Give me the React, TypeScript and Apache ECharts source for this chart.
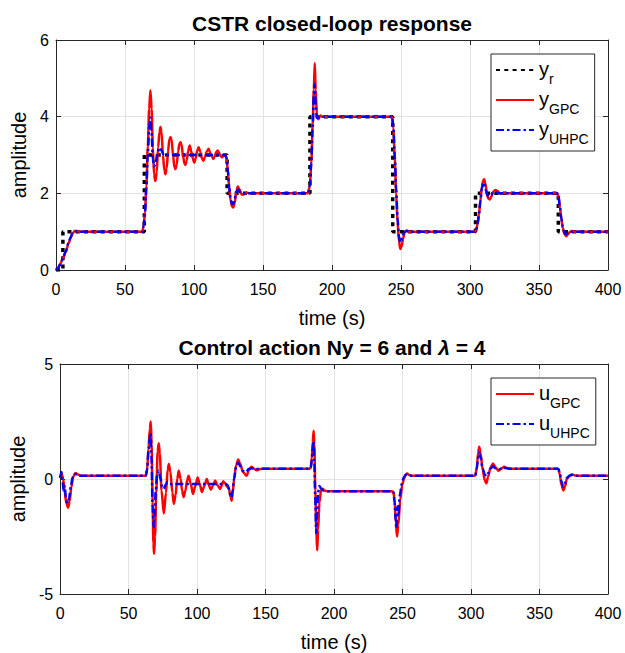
import React, { useEffect, useRef } from 'react';
import * as echarts from 'echarts';

const FONT = '"Liberation Sans", Arial, Helvetica, sans-serif';

// time (s), value pairs
const yRef: number[][] = [
  [0, 0], [5, 0], [5, 1], [64, 1], [64, 3], [124, 3], [124, 2], [184, 2], [184, 4],
  [244, 4], [244, 1], [304, 1], [304, 2], [364, 2], [364, 1], [400, 1],
];

const yGpc: number[][] = [
  [0, 0], [1.5, 0.05], [3, 0.15], [5, 0.3], [7, 0.47], [9, 0.68], [10.5, 0.83], [12, 0.95], [13.5, 1.02], [15, 1.02], [17, 1.0],
  [62.5, 1.0], [63.5, 1.15], [64.5, 1.5], [65.5, 2.2], [66.5, 3.2], [67.5, 4.2], [68.4, 4.69], [69.3, 4.2], [70.2, 3.2], [71, 2.5],
  [72, 2.32], [73, 2.55], [74, 3.2], [75, 3.6], [75.7, 3.73], [76.5, 3.6], [77.5, 3.0], [78.5, 2.6], [79.3, 2.5], [80.2, 2.65],
  [81.2, 3.1], [82.2, 3.42], [83, 3.46], [83.8, 3.4], [84.8, 3.0], [85.8, 2.68], [86.6, 2.63], [87.5, 2.75], [88.5, 3.1], [89.5, 3.3],
  [90.2, 3.33], [91, 3.27], [92, 3.0], [93, 2.78], [93.8, 2.74], [94.7, 2.85], [95.7, 3.1], [96.9, 3.25], [98, 3.1], [99, 2.92],
  [100.2, 2.8], [101.3, 2.92], [102.3, 3.12], [103.4, 3.2], [104.5, 3.08], [105.5, 2.93], [106.8, 2.85], [108, 2.95], [109.3, 3.1],
  [110.6, 3.16], [111.8, 3.05], [113, 2.95], [114, 2.9], [115, 2.96], [116, 3.07], [117.1, 3.12], [118.2, 3.05], [119.3, 2.97],
  [120.3, 2.94], [121.3, 2.98], [122.5, 3.02],
  [123.5, 2.95], [124.5, 2.6], [125.5, 2.15], [126.5, 1.82], [127.5, 1.66], [128.5, 1.63], [129.5, 1.75], [130.5, 2.0], [131.7, 2.18],
  [133, 2.1], [134.5, 1.97], [136, 1.97], [138, 2.02], [140, 2.0],
  [182.5, 2.0], [184, 2.2], [185, 2.8], [186, 3.8], [186.8, 4.7], [187.5, 5.4], [188.2, 4.7], [189, 4.05], [190, 3.93], [191.5, 4.03], [193, 4.0],
  [243.5, 4.0], [244.5, 3.7], [245.5, 2.9], [246.5, 2.0], [247.5, 1.25], [248.5, 0.75], [249.5, 0.55], [250.5, 0.62], [251.5, 0.82],
  [252.5, 0.97], [254, 1.03], [256, 1.0],
  [303.5, 1.0], [304.5, 1.05], [305.5, 1.2], [306.5, 1.45], [307.5, 1.8], [308.5, 2.15], [309.5, 2.33], [310.3, 2.37], [311.2, 2.25],
  [312.3, 1.98], [313.3, 1.86], [314.3, 1.84], [315.5, 1.92], [317, 2.05], [318.5, 2.09], [320, 2.06], [322, 1.99], [324, 2.0],
  [363.2, 2.0], [364.2, 1.9], [365.2, 1.62], [366.2, 1.33], [367.2, 1.1], [368.3, 0.95], [369.7, 0.88], [371, 0.93], [372.5, 1.0],
  [374, 1.02], [376, 1.0], [400, 1.0],
];

const yUhpc: number[][] = [
  [0, 0], [1.5, 0.05], [3, 0.15], [5, 0.3], [7, 0.48], [9, 0.7], [10.5, 0.85], [12, 0.96], [13.5, 1.01], [15, 1.01], [17, 1.0],
  [62.5, 1.0], [63.5, 1.15], [64.5, 1.5], [65.5, 2.15], [66.5, 3.0], [67.5, 3.7], [68.3, 3.98], [69.2, 3.6], [70.2, 2.9], [71, 2.7],
  [72, 2.75], [73.5, 3.05], [75, 3.2], [76.5, 3.12], [78, 3.0], [79.5, 2.97], [81, 3.0], [122.5, 3.0],
  [123.5, 2.93], [124.5, 2.6], [125.5, 2.15], [126.5, 1.85], [127.5, 1.72], [128.5, 1.73], [129.5, 1.86], [130.5, 2.02], [132, 2.1],
  [133.5, 2.03], [135, 1.98], [137, 2.0],
  [182.5, 2.0], [184, 2.2], [185, 2.8], [186, 3.7], [186.8, 4.6], [187.4, 4.85], [188.2, 4.3], [189, 3.97], [190, 3.98], [191.5, 4.0],
  [243.5, 4.0], [244.5, 3.7], [245.5, 2.95], [246.5, 2.1], [247.5, 1.35], [248.5, 0.88], [249.4, 0.72], [250.3, 0.76], [251.3, 0.9],
  [252.5, 1.0], [254, 1.02], [256, 1.0],
  [303.5, 1.0], [304.5, 1.05], [305.5, 1.2], [306.5, 1.45], [307.5, 1.8], [308.5, 2.12], [309.6, 2.28], [310.5, 2.25], [311.5, 2.08],
  [312.5, 1.95], [313.7, 1.92], [315, 1.97], [317, 2.03], [319, 2.02], [321, 2.0],
  [363.2, 2.0], [364.2, 1.9], [365.2, 1.63], [366.2, 1.35], [367.2, 1.13], [368.3, 0.98], [369.5, 0.93], [370.8, 0.96], [372.3, 1.0],
  [400, 1.0],
];

const uGpc: number[][] = [
  [0, 0.05], [1.2, 0.22], [2.2, 0.0], [3.3, -0.55], [4.5, -1.05], [5.8, -1.25], [7, -0.95], [8.2, -0.35], [9.5, 0.1], [11.2, 0.26],
  [13, 0.2], [15, 0.14],
  [62.5, 0.14], [63.5, 0.4], [64.5, 1.3], [65.5, 2.2], [66.2, 2.5], [66.8, 1.5], [67.5, -1.0], [68.1, -2.8], [68.6, -3.25], [69.3, -2.5],
  [70.2, -0.6], [71.2, 1.2], [72, 1.55], [72.8, 1.1], [74, -0.5], [75.7, -1.5], [77.3, -0.6], [78.5, 0.4], [79.4, 0.65], [80.5, 0.3],
  [82, -0.6], [83, -1.08], [84.3, -0.7], [85.5, 0.0], [86.6, 0.36], [88, 0.0], [89, -0.5], [90.2, -0.79], [91.5, -0.5], [92.7, -0.05],
  [93.8, 0.14], [95.3, -0.2], [97, -0.65], [98.7, -0.3], [100.4, 0.07], [101.8, -0.2], [103.5, -0.57], [105.3, -0.3], [107.1, 0.0],
  [108.5, -0.25], [110, -0.47], [111.5, -0.3], [113.1, -0.07], [115, -0.28], [116.8, -0.43], [118, -0.28], [119, -0.1], [120.5, -0.2],
  [122, -0.33], [123.3, -0.45], [124.3, -0.75], [125.2, -0.95], [126, -0.6], [127, 0.0], [128.5, 0.6], [130, 0.85], [131.5, 0.65],
  [133.5, 0.3], [136, 0.14], [138, 0.4], [139.7, 0.53], [141.5, 0.45], [143.5, 0.38], [146, 0.44], [150, 0.45],
  [182, 0.45], [183, 0.5], [183.7, 0.9], [184.4, 1.6], [185.1, 2.1], [185.6, 1.5], [186.3, -0.5], [187, -2.2], [187.7, -3.1],
  [188.4, -2.2], [189.3, -1.0], [190.5, -0.5], [191.7, -0.42], [193, -0.5], [195, -0.53],
  [242, -0.53], [243.3, -0.56], [244.2, -0.9], [245.1, -1.9], [246, -2.5], [246.9, -2.0], [248.3, -0.9], [249.8, -0.25], [251, 0.0],
  [252.3, 0.18], [253.3, 0.24], [254.8, 0.17], [257, 0.14],
  [302, 0.14], [303.2, 0.16], [304.2, 0.5], [305.2, 1.15], [306, 1.4], [307, 1.1], [308.5, 0.4], [310, -0.05], [311.2, -0.19],
  [312.5, 0.1], [314.2, 0.5], [316, 0.67], [318, 0.5], [320, 0.36], [322, 0.45], [324.2, 0.53], [326.5, 0.47], [330, 0.45],
  [362, 0.45], [363.8, 0.44], [364.8, 0.2], [366, -0.25], [367.5, -0.5], [368.7, -0.3], [370, 0.0], [371.5, 0.12], [373.5, 0.2],
  [376, 0.15], [380, 0.14], [400, 0.14],
];

const uUhpc: number[][] = [
  [0, 0.05], [1, 0.3], [1.8, -0.1], [2.5, -0.5], [3.3, -0.3], [4.2, -0.8], [5.3, -1.05], [6.5, -0.85], [7.8, -0.35], [9, 0.05],
  [10.5, 0.22], [12, 0.2], [14, 0.14],
  [62.5, 0.14], [63.5, 0.4], [64.5, 1.2], [65.5, 1.8], [66, 2.0], [66.7, 1.0], [67.5, -1.2], [68.3, -2.1], [69, -1.6], [69.8, -0.5],
  [70.8, 0.2], [72, 0.36], [73.3, 0.0], [74.5, -0.35], [75.7, -0.43], [77, -0.25], [78.5, -0.12], [80, -0.2], [82, -0.24], [84, -0.22],
  [121, -0.22], [122.3, -0.27], [123.5, -0.45], [124.5, -0.72], [125.2, -0.8], [126, -0.5], [127, 0.0], [128.5, 0.55], [130, 0.72],
  [131.5, 0.55], [133.5, 0.35], [135.5, 0.3], [138, 0.45], [140, 0.47], [143, 0.43], [146, 0.45],
  [182, 0.45], [183, 0.5], [183.7, 0.8], [184.4, 1.3], [185, 1.65], [185.6, 0.8], [186.3, -0.9], [187, -2.35], [187.6, -1.5],
  [188.3, -0.6], [189.3, -0.3], [190.5, -0.42], [192, -0.5], [195, -0.53],
  [242, -0.53], [243.3, -0.56], [244.2, -1.0], [245, -1.8], [245.5, -2.16], [246.2, -1.2], [247, -1.6], [248, -0.7], [249.5, -0.2],
  [251, 0.08], [252.5, 0.2], [254, 0.17], [257, 0.14],
  [302, 0.14], [303.2, 0.16], [304.2, 0.45], [305.2, 0.95], [306, 1.13], [307, 0.95], [308.5, 0.45], [310, 0.2], [311.2, 0.12],
  [312.5, 0.25], [314.2, 0.45], [316, 0.55], [318, 0.47], [320, 0.4], [322.5, 0.47], [325, 0.48], [328, 0.45],
  [362, 0.45], [363.8, 0.44], [364.8, 0.25], [366, -0.1], [367.3, -0.35], [368.5, -0.2], [370, 0.05], [372, 0.15], [374, 0.18],
  [377, 0.14], [400, 0.14],
];

const topTitle = 'CSTR closed-loop response';
const xName = 'time (s)';
const yName = 'amplitude';

const legendParts: Record<string, [string, string]> = {
  yr: ['y', 'r'],
  yGPC: ['y', 'GPC'],
  yUHPC: ['y', 'UHPC'],
  uGPC: ['u', 'GPC'],
  uUHPC: ['u', 'UHPC'],
};

const AX = '#262626';
const GRIDC = '#e2e2e2';
const GL = 56, GW = 552;

function xBottom(gridIndex: number) {
  return {
    type: 'value', gridIndex, min: 0, max: 400, interval: 50, position: 'bottom',
    name: xName, nameLocation: 'middle', nameGap: 38,
    nameTextStyle: { fontFamily: FONT, fontSize: 20, color: '#000' },
    axisLine: { show: true, onZero: false, lineStyle: { color: AX, width: 1 } },
    axisTick: { show: true, inside: true, length: 5, lineStyle: { color: AX } },
    axisLabel: { fontFamily: FONT, fontSize: 16, color: '#000', margin: 11 },
    splitLine: { show: true, lineStyle: { color: GRIDC, width: 1 } },
  };
}
function xTop(gridIndex: number) {
  return {
    type: 'value', gridIndex, min: 0, max: 400, interval: 50, position: 'top',
    axisLine: { show: true, onZero: false, lineStyle: { color: AX, width: 1 } },
    axisTick: { show: true, inside: true, length: 5, lineStyle: { color: AX } },
    axisLabel: { show: false },
    splitLine: { show: false },
  };
}
function yLeft(gridIndex: number, min: number, max: number, interval: number) {
  return {
    type: 'value', gridIndex, min, max, interval, position: 'left',
    name: yName, nameLocation: 'middle', nameGap: 27,
    nameTextStyle: { fontFamily: FONT, fontSize: 20, color: '#000' },
    axisLine: { show: true, onZero: false, lineStyle: { color: AX, width: 1 } },
    axisTick: { show: true, inside: true, length: 5, lineStyle: { color: AX } },
    axisLabel: { fontFamily: FONT, fontSize: 16, color: '#000', margin: 7 },
    splitLine: { show: true, lineStyle: { color: GRIDC, width: 1 } },
  };
}
function yRight(gridIndex: number, min: number, max: number, interval: number) {
  return {
    type: 'value', gridIndex, min, max, interval, position: 'right',
    axisLine: { show: true, onZero: false, lineStyle: { color: AX, width: 1 } },
    axisTick: { show: true, inside: true, length: 5, lineStyle: { color: AX } },
    axisLabel: { show: false },
    splitLine: { show: false },
  };
}

const richLegend = {
  m: { fontFamily: FONT, fontSize: 20, color: '#000', lineHeight: 22, verticalAlign: 'top' },
  s: { fontFamily: FONT, fontSize: 14, color: '#000', lineHeight: 14, padding: [13, 0, 0, 0], verticalAlign: 'top' },
};

function legend(data: string[], top: number) {
  return {
    data, orient: 'vertical', left: 491, top,
    padding: [5, 6, 5, 4], itemWidth: 38, itemHeight: 14, itemGap: 3,
    borderColor: AX, borderWidth: 1, backgroundColor: '#fff',
    itemStyle: { opacity: 0 },
    formatter: (name: string) => `{m|${legendParts[name][0]}}{s|${legendParts[name][1]}}`,
    textStyle: { rich: richLegend },
  };
}

function line(name: string, data: number[][], idx: number, color: string, width: number, type: any, smooth: number | boolean) {
  return {
    type: 'line', name, data, xAxisIndex: idx * 2, yAxisIndex: idx * 2,
    symbol: 'none', smooth, smoothMonotone: 'x',
    lineStyle: { color, width, type, cap: 'butt' },
    itemStyle: { color },
    emphasis: { disabled: true },
  };
}

const option: any = {
  animation: false,
  backgroundColor: '#fff',
  grid: [
    { left: GL, top: 40, width: GW, height: 230 },
    { left: GL, top: 364, width: GW, height: 230 },
  ],
  xAxis: [xBottom(0), xTop(0), xBottom(1), xTop(1)],
  yAxis: [yLeft(0, 0, 6, 2), yRight(0, 0, 6, 2), yLeft(1, -5, 5, 5), yRight(1, -5, 5, 5)],
  legend: [legend(['yr', 'yGPC', 'yUHPC'], 54), legend(['uGPC', 'uUHPC'], 378)],
  series: [
    line('yr', yRef, 0, '#000000', 3.5, [4, 4.3], false),
    line('yGPC', yGpc, 0, '#ff0000', 2.5, 'solid', 0.3),
    line('yUHPC', yUhpc, 0, '#0000ff', 2.5, [8, 3, 2.5, 3], 0.3),
    line('uGPC', uGpc, 1, '#ff0000', 2.5, 'solid', 0.3),
    line('uUHPC', uUhpc, 1, '#0000ff', 2.5, [8, 3, 2.5, 3], 0.3),
  ],
  graphic: [
    {
      type: 'text', x: 332, y: 23,
      style: { text: topTitle, fontFamily: FONT, fontSize: 21, fontWeight: 'bold', fill: '#000', align: 'center', verticalAlign: 'middle' },
    },
    {
      type: 'text', x: 332, y: 347,
      style: {
        text: '{n|Control action Ny = 6 and }{l|λ}{n| = 4}',
        align: 'center', verticalAlign: 'middle',
        rich: {
          n: { fontFamily: FONT, fontSize: 21, fontWeight: 'bold', fill: '#000' },
          l: { fontFamily: FONT, fontSize: 21, fontWeight: 'bold', fontStyle: 'italic', fill: '#000' },
        },
      },
    },
  ],
};

export default function App() {
  const ref = useRef<HTMLDivElement>(null);
  useEffect(() => {
    const chart = echarts.init(ref.current!, null, { renderer: 'svg' });
    chart.setOption(option);
    return () => chart.dispose();
  }, []);
  return (
    <div
      ref={ref}
      style={{ position: 'fixed', left: 0, top: 0, width: 625, height: 653, background: '#fff' }}
    />
  );
}
